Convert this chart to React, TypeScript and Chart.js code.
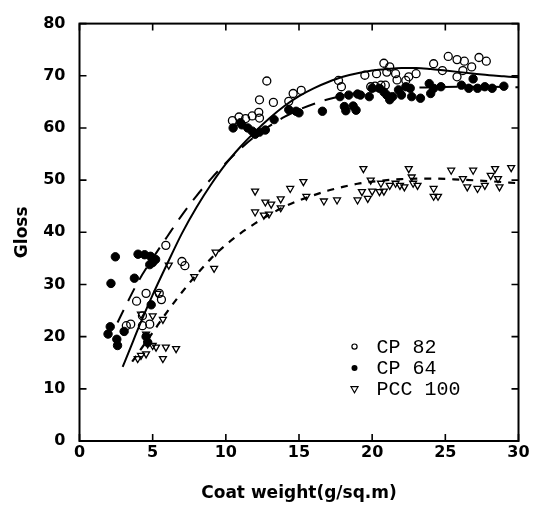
import React, { useEffect, useRef } from "react";
import { Chart, registerables } from "chart.js";

Chart.register(...registerables);

// ---- data ----
const xTickValues = [0, 5, 10, 15, 20, 25, 30];
const yTickValues = [0, 10, 20, 30, 40, 50, 60, 70, 80];
const seriesLabels = ["CP 82", "CP 64", "PCC 100"];
const xTitle = "Coat weight(g/sq.m)";
const yTitle = "Gloss";

// CP 82 (open circles)
const cp82: [number, number][] = [
  [3.2, 22.1], [3.5, 22.4], [3.9, 26.8], [4.3, 22.1], [4.3, 24.0], [4.55, 28.3], [4.8, 22.4],
  [5.45, 28.3], [5.6, 27.1], [5.9, 37.5], [7.0, 34.4], [7.2, 33.6],
  [10.45, 61.4], [10.9, 62.1], [11.35, 61.8], [11.8, 62.3], [12.25, 63.0], [12.3, 61.9],
  [12.3, 65.4], [12.8, 69.0], [13.25, 64.9], [14.3, 65.1], [14.6, 66.6], [15.15, 67.2],
  [17.7, 69.1], [17.9, 67.9], [19.5, 70.1], [19.9, 67.9], [20.2, 68.0], [20.3, 70.4],
  [20.6, 68.2], [20.8, 72.4], [20.9, 68.2], [21.0, 70.7], [21.2, 71.7], [21.6, 70.4],
  [21.7, 69.2], [22.3, 69.1], [22.5, 69.8], [23.0, 70.4], [24.2, 72.3], [24.8, 71.0],
  [25.2, 73.7], [25.8, 73.1], [25.8, 69.8], [26.2, 71.0], [26.3, 72.8], [26.8, 71.7],
  [27.3, 73.5], [27.8, 72.8],
];

// CP 64 (filled circles)
const cp64: [number, number][] = [
  [1.95, 20.5], [2.1, 21.9], [2.15, 30.2], [2.45, 35.3], [2.55, 19.5], [2.6, 18.3], [3.05, 21.0],
  [3.75, 31.2], [4.0, 35.8], [4.45, 35.7], [4.85, 35.4], [5.2, 34.8], [4.8, 33.8], [5.0, 34.2],
  [4.9, 26.1], [4.55, 20.0], [4.66, 18.9],
  [10.5, 60.0], [11.0, 61.0], [11.1, 60.6], [11.5, 60.0], [11.8, 59.4], [12.0, 58.8],
  [12.3, 59.2], [12.7, 59.6], [13.3, 61.6], [14.3, 63.5], [14.8, 63.2], [15.0, 62.9], [16.6, 63.2],
  [17.8, 66.0], [18.1, 64.1], [18.2, 63.3], [18.4, 66.3], [18.7, 64.2], [18.9, 63.4],
  [19.0, 66.5], [19.2, 66.3], [19.8, 66.0], [20.0, 67.6], [20.5, 67.6], [20.8, 66.9],
  [21.0, 66.3], [21.2, 65.4], [21.4, 66.0], [21.8, 67.3], [22.0, 66.3], [22.3, 67.9],
  [22.6, 67.6], [22.7, 66.0], [23.3, 65.7], [23.9, 68.5], [24.0, 66.6], [24.2, 67.6],
  [24.7, 67.9], [26.1, 68.2], [26.6, 67.6], [26.9, 69.4], [27.2, 67.6], [27.7, 67.9],
  [28.2, 67.6], [29.0, 68.0],
];

// PCC 100 (open down-triangles)
const pcc100: [number, number][] = [
  [3.98, 15.8], [4.2, 16.4], [4.55, 16.7], [4.2, 24.3], [4.55, 20.5], [4.66, 18.6], [5.0, 18.3],
  [5.23, 18.0], [5.0, 24.0], [5.34, 28.3], [5.7, 23.3], [5.7, 15.8], [5.9, 18.0], [6.1, 33.7],
  [6.6, 17.7], [7.84, 31.5], [9.2, 33.1], [9.3, 36.2],
  [12.0, 47.9], [12.0, 43.9], [12.6, 43.3], [12.7, 45.8], [12.95, 43.5], [13.1, 45.4],
  [13.75, 46.4], [13.75, 44.7], [14.4, 48.4], [15.3, 49.7], [15.5, 46.9], [16.7, 46.0],
  [17.6, 46.2], [19.0, 46.2],
  [19.4, 52.2], [19.3, 47.8], [19.7, 46.5], [19.9, 50.0], [20.0, 47.9], [20.5, 47.8],
  [20.6, 49.4], [20.8, 47.9], [21.2, 49.0], [21.6, 49.4], [21.9, 49.0], [22.2, 48.7],
  [22.5, 52.2], [22.7, 50.6], [22.8, 49.4], [23.1, 49.0], [24.2, 48.4], [24.2, 46.9],
  [24.5, 46.9], [25.4, 51.9], [26.2, 50.3], [26.5, 48.7], [26.9, 51.9], [27.2, 48.4],
  [27.7, 49.0], [28.1, 50.9], [28.4, 52.2], [28.6, 50.3], [28.7, 48.7], [29.5, 52.4],
];

// fitted curves
const cp82Fit: [number, number][] = [
  [2.95, 14.2], [3.5, 18.0], [4, 21.5], [5, 28.0], [6, 34.0], [7, 39.8], [8, 44.8], [9, 49.2],
  [10, 53.1], [11, 56.4], [12, 59.3], [13, 61.9], [14, 64.2], [15, 66.1], [16, 67.6], [17, 68.8],
  [18, 69.8], [19, 70.5], [20, 71.0], [21, 71.3], [22, 71.5], [23, 71.5], [24, 71.3], [25, 71.0],
  [26, 70.7], [27, 70.4], [28, 70.1], [29, 69.9], [30, 69.7],
];
const cp64Fit: [number, number][] = [
  [2.6, 22.7], [3, 25.0], [4, 30.5], [5, 35.0], [6, 39.2], [7, 43.3], [8, 47.0], [9, 50.3],
  [10, 53.3], [11, 56.0], [12, 58.4], [13, 60.4], [14, 62.1], [15, 63.5], [16, 64.6], [17, 65.5],
  [18, 66.2], [19, 66.7], [20, 67.1], [22, 67.6], [24, 67.8], [26, 67.9], [28, 67.9], [30, 67.8],
];
const pcc100Fit: [number, number][] = [
  [3.6, 15.2], [4, 16.8], [5, 20.8], [6, 24.8], [7, 28.5], [8, 31.9], [9, 35.0], [10, 37.6],
  [11, 39.8], [12, 41.7], [13, 43.4], [14, 44.9], [15, 46.1], [16, 47.1], [17, 48.0], [18, 48.7],
  [19, 49.3], [20, 49.7], [22, 50.2], [24, 50.3], [26, 50.1], [28, 49.8], [30, 49.4],
];

const toPts = (arr: [number, number][]) => arr.map(([x, y]) => ({ x, y }));

const framePlugin = {
  id: "frameTicks",
  afterDatasetsDraw(chart: any) {
    const { ctx, chartArea } = chart;
    const { left, right, top, bottom } = chartArea;
    const xs = chart.scales.x;
    const ys = chart.scales.y;
    ctx.save();
    ctx.strokeStyle = "#000";
    ctx.lineWidth = 2;
    ctx.strokeRect(left, top, right - left, bottom - top);
    ctx.lineWidth = 1.6;
    const L = 7;
    ctx.beginPath();
    xs.ticks.forEach((t: any) => {
      const px = xs.getPixelForValue(t.value);
      ctx.moveTo(px, bottom);
      ctx.lineTo(px, bottom - L);
      ctx.moveTo(px, top);
      ctx.lineTo(px, top + L);
    });
    ys.ticks.forEach((t: any) => {
      const py = ys.getPixelForValue(t.value);
      ctx.moveTo(left, py);
      ctx.lineTo(left + L, py);
      ctx.moveTo(right, py);
      ctx.lineTo(right - L, py);
    });
    ctx.stroke();
    ctx.restore();
  },
};

const legendPlugin = {
  id: "inlineLegend",
  afterDraw(chart: any) {
    const { ctx, chartArea } = chart;
    const mx = chartArea.left + 275;
    const tx = chartArea.left + 297;
    const y0 = chartArea.top + 323;
    const dy = 21.3;
    ctx.save();
    ctx.fillStyle = "#000";
    ctx.strokeStyle = "#000";
    ctx.font = "20px 'Liberation Mono'";
    ctx.textBaseline = "middle";
    ctx.textAlign = "left";
    seriesLabels.forEach((label, i) => {
      const yy = y0 + i * dy;
      ctx.lineWidth = 1.2;
      ctx.beginPath();
      if (i === 0) {
        ctx.arc(mx, yy, 2.6, 0, Math.PI * 2);
        ctx.stroke();
      } else if (i === 1) {
        ctx.arc(mx, yy, 3, 0, Math.PI * 2);
        ctx.fill();
      } else {
        ctx.moveTo(mx - 3.5, yy - 2.5);
        ctx.lineTo(mx + 3.5, yy - 2.5);
        ctx.lineTo(mx, yy + 3.5);
        ctx.closePath();
        ctx.stroke();
      }
      ctx.fillText(label, tx, yy + 1);
    });
    ctx.restore();
  },
};

export default function App() {
  const ref = useRef<HTMLCanvasElement | null>(null);
  useEffect(() => {
    if (!ref.current) return;
    const tickFont = { family: "'DejaVu Sans'", size: 16, weight: "bold" as const };
    const titleFont = { family: "'DejaVu Sans'", size: 17, weight: "bold" as const };
    const chart = new Chart(ref.current, {
      type: "scatter",
      data: {
        datasets: [
          {
            label: seriesLabels[0],
            data: toPts(cp82),
            pointStyle: "circle",
            pointRadius: 4,
            borderColor: "#000",
            backgroundColor: "rgba(0,0,0,0)",
            borderWidth: 1.3,
          },
          {
            label: seriesLabels[1],
            data: toPts(cp64),
            pointStyle: "circle",
            pointRadius: 4.2,
            borderColor: "#000",
            backgroundColor: "#000",
            borderWidth: 1,
          },
          {
            label: seriesLabels[2],
            data: toPts(pcc100),
            pointStyle: "triangle",
            rotation: 180,
            pointRadius: 4,
            borderColor: "#000",
            backgroundColor: "rgba(0,0,0,0)",
            borderWidth: 1.3,
          },
          {
            label: "CP 82 fit",
            data: toPts(cp82Fit),
            showLine: true,
            pointRadius: 0,
            borderColor: "#000",
            borderWidth: 2,
            cubicInterpolationMode: "monotone",
          },
          {
            label: "CP 64 fit",
            data: toPts(cp64Fit),
            showLine: true,
            pointRadius: 0,
            borderColor: "#000",
            borderWidth: 2,
            borderDash: [14, 10],
            cubicInterpolationMode: "monotone",
          },
          {
            label: "PCC 100 fit",
            data: toPts(pcc100Fit),
            showLine: true,
            pointRadius: 0,
            borderColor: "#000",
            borderWidth: 2.2,
            borderDash: [7, 7],
            cubicInterpolationMode: "monotone",
          },
        ] as any,
      },
      options: {
        animation: false,
        responsive: true,
        maintainAspectRatio: false,
        layout: { padding: { left: 0, right: 16.5, top: 16, bottom: 0 } },
        plugins: { legend: { display: false }, tooltip: { enabled: false } },
        scales: {
          x: {
            type: "linear",
            min: 0,
            max: 30,
            afterBuildTicks: (s: any) => {
              s.ticks = xTickValues.map((v) => ({ value: v }));
            },
            afterFit: (s: any) => {
              s.height = 66;
            },
            ticks: { font: tickFont, color: "#000", padding: 2, maxRotation: 0, autoSkip: false },
            grid: { display: false, drawTicks: false },
            border: { display: false },
            title: { display: true, text: xTitle, font: titleFont, color: "#000", padding: { top: 0, bottom: 3 } },
          },
          y: {
            type: "linear",
            min: 0,
            max: 80,
            afterBuildTicks: (s: any) => {
              s.ticks = yTickValues.map((v) => ({ value: v }));
            },
            afterFit: (s: any) => {
              s.width = 79.5;
            },
            ticks: { font: tickFont, color: "#000", padding: 14, autoSkip: false },
            grid: { display: false, drawTicks: false },
            border: { display: false },
            title: { display: true, text: yTitle, font: titleFont, color: "#000", padding: { top: 12, bottom: 0 } },
          },
        },
      },
      plugins: [framePlugin, legendPlugin],
    });
    return () => chart.destroy();
  }, []);
  return (
    <div style={{ position: "absolute", left: 0, top: 0, width: 535, height: 507, background: "#fff" }}>
      <canvas ref={ref} />
    </div>
  );
}
